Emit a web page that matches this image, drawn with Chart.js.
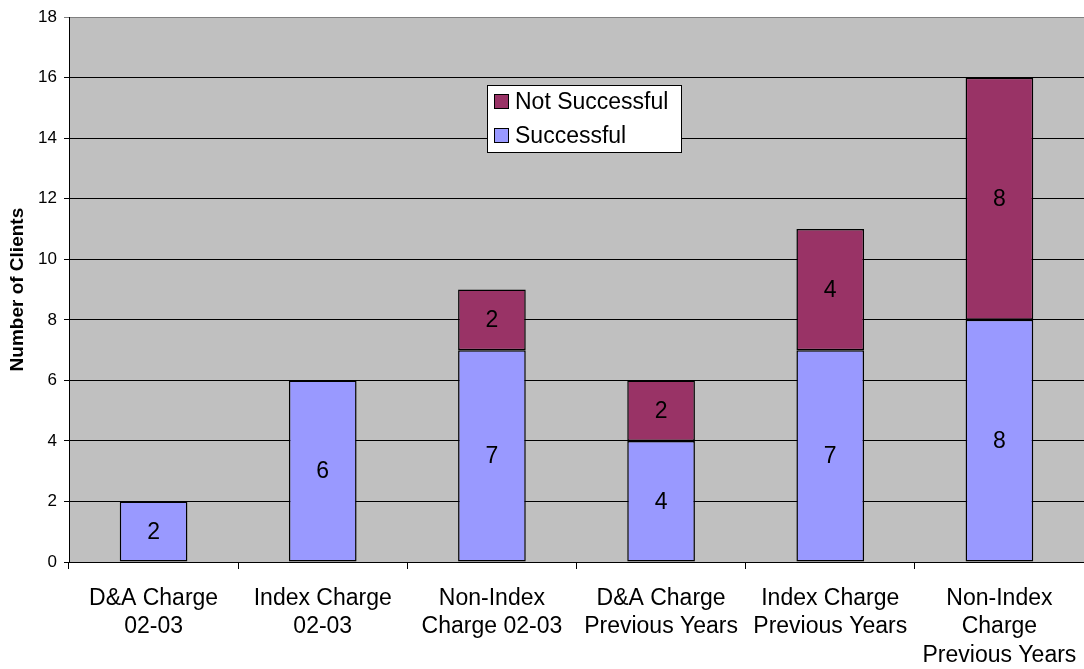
<!DOCTYPE html>
<html>
<head>
<meta charset="utf-8">
<script src="https://cdn.jsdelivr.net/npm/chart.js@4/dist/chart.umd.min.js"></script>
<style>
  body { margin: 0; background: #fff; }
</style>
</head>
<body>
<canvas id="myChart" width="1084" height="669"></canvas>
<script>
// chart data
const categories = [
  ["D&A Charge", "02-03"],
  ["Index Charge", "02-03"],
  ["Non-Index", "Charge 02-03"],
  ["D&A Charge", "Previous Years"],
  ["Index Charge", "Previous Years"],
  ["Non-Index", "Charge", "Previous Years"]
];
const successful = [2, 6, 7, 4, 7, 8];
const notSuccessful = [null, null, 2, 2, 4, 8];
const yTicks = [0, 2, 4, 6, 8, 10, 12, 14, 16, 18];

const FONT = "'Liberation Sans', Arial, sans-serif";

// gray plot background
const plotBackground = {
  id: "plotBackground",
  beforeDraw(chart) {
    const { ctx, chartArea: a } = chart;
    ctx.save();
    ctx.fillStyle = "#C0C0C0";
    ctx.fillRect(a.left, a.top, a.right - a.left, a.bottom - a.top);
    ctx.restore();
  }
};

// value labels in the middle of each bar segment
const barLabels = {
  id: "barLabels",
  afterDatasetsDraw(chart) {
    const ctx = chart.ctx;
    ctx.save();
    ctx.font = "23px " + FONT;
    ctx.fillStyle = "#000";
    ctx.textAlign = "center";
    ctx.textBaseline = "middle";
    chart.data.datasets.forEach((ds, i) => {
      const meta = chart.getDatasetMeta(i);
      meta.data.forEach((bar, j) => {
        const v = ds.data[j];
        if (v == null) return;
        const mid = (bar.y + bar.base) / 2;
        ctx.fillText(String(v), bar.x, mid + 1);
      });
    });
    ctx.restore();
  }
};

// legend box inside the plot
const boxLegend = {
  id: "boxLegend",
  afterDraw(chart) {
    const ctx = chart.ctx;
    const x = 487, y = 85, w = 194, h = 67;
    ctx.save();
    ctx.fillStyle = "#fff";
    ctx.fillRect(x, y, w, h);
    ctx.strokeStyle = "#000";
    ctx.lineWidth = 1;
    ctx.strokeRect(x + 0.5, y + 0.5, w, h);
    const items = [
      { text: "Not Successful", color: "#993366", cy: y + 17 },
      { text: "Successful", color: "#9999FF", cy: y + 51 }
    ];
    ctx.font = "23px " + FONT;
    ctx.textBaseline = "middle";
    items.forEach((it) => {
      ctx.fillStyle = it.color;
      ctx.fillRect(x + 7, it.cy - 8, 15, 15);
      ctx.strokeRect(x + 7.5, it.cy - 7.5, 14, 14);
      ctx.fillStyle = "#000";
      ctx.fillText(it.text, x + 28, it.cy + 1);
    });
    ctx.restore();
  }
};

const config = {
  type: "bar",
  data: {
    labels: categories,
    datasets: [
      {
        label: "Successful",
        data: successful,
        backgroundColor: "#9999FF",
        borderColor: "#000",
        borderWidth: 1.5,
        borderSkipped: false,
        barPercentage: 0.4,
        categoryPercentage: 1
      },
      {
        label: "Not Successful",
        data: notSuccessful,
        backgroundColor: "#993366",
        borderColor: "#000",
        borderWidth: 1.5,
        borderSkipped: false,
        barPercentage: 0.4,
        categoryPercentage: 1
      }
    ]
  },
  options: {
    responsive: false,
    animation: false,
    layout: { padding: { top: 17, right: 0, left: 0, bottom: 0 } },
    plugins: {
      legend: { display: false },
      tooltip: { enabled: false }
    },
    scales: {
      x: {
        stacked: true,
        afterFit(scale) {
          scale.height = 107;
          scale.paddingLeft = 0;
          scale.paddingRight = 0;
        },
        border: { color: "#000", width: 1 },
        grid: {
          offset: true,
          drawOnChartArea: false,
          color: "#000",
          tickLength: 7
        },
        ticks: {
          color: "#000",
          font: { family: FONT, size: 23, lineHeight: 1.25 },
          maxRotation: 0,
          autoSkip: false,
          padding: 15
        }
      },
      y: {
        stacked: true,
        min: 0,
        max: 18,
        afterFit(scale) { scale.width = 69; },
        afterBuildTicks(scale) {
          scale.ticks = yTicks.map((v) => ({ value: v }));
        },
        border: { color: "#000", width: 1 },
        grid: {
          color: (c) => (c.tick && c.tick.value === 18 ? "#808080" : "#000"),
          tickLength: 5
        },
        ticks: {
          color: "#000",
          font: { family: FONT, size: 17 },
          padding: 7
        },
        title: {
          display: true,
          text: "Number of Clients",
          color: "#000",
          font: { family: FONT, size: 19, weight: "bold" },
          padding: { top: 6, bottom: 0 }
        }
      }
    }
  },
  plugins: [plotBackground, barLabels, boxLegend]
};

const ctx = document.getElementById("myChart").getContext("2d");
window.myChart = new Chart(ctx, config);
</script>
</body>
</html>
